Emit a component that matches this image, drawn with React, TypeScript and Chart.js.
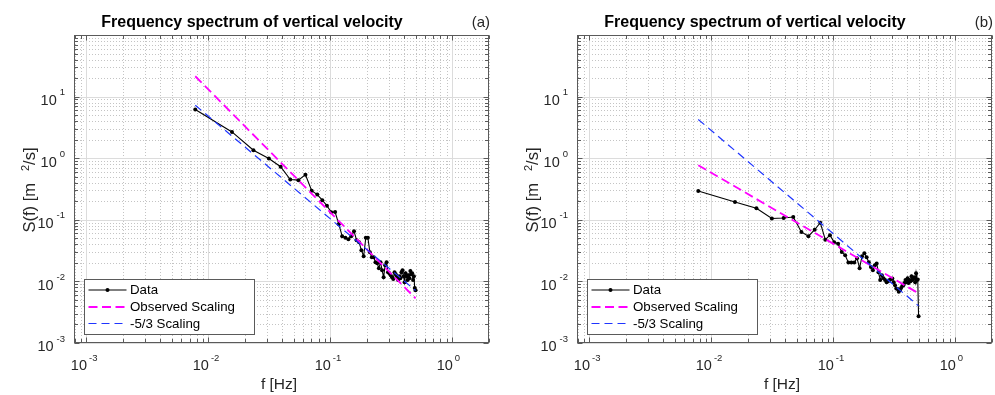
import React, { useEffect, useRef } from 'react';
import { Chart, registerables } from 'chart.js';

Chart.register(...registerables);

// ---------- data ----------
const freqs = [
  0.0078, 0.0156, 0.0234, 0.0313, 0.0391, 0.0469, 0.0547, 0.0625, 0.0703, 0.0781,
  0.0859, 0.0938, 0.1016, 0.1094, 0.1172, 0.125, 0.1328, 0.1406, 0.1484, 0.1563,
  0.1641, 0.1719, 0.1797, 0.1875, 0.1953, 0.2031, 0.2109, 0.2188, 0.2266, 0.2344,
  0.2422, 0.25, 0.2578, 0.2656, 0.2734, 0.2813, 0.2891, 0.2969, 0.3047, 0.3125,
  0.3203, 0.3281, 0.3359, 0.3438, 0.3516, 0.3594, 0.3672, 0.375, 0.3828, 0.3906,
  0.3984, 0.4063, 0.4141, 0.4219, 0.4297, 0.4375, 0.4453, 0.4531, 0.4609, 0.4688,
  0.4766, 0.4844, 0.4922, 0.5,
];

const psdA = [
  6.18, 2.67, 1.35, 0.99, 0.728, 0.451, 0.44, 0.54, 0.297, 0.257,
  0.208, 0.169, 0.133, 0.134, 0.0849, 0.0542, 0.0512, 0.0484, 0.0542, 0.0653,
  0.0467, 0.0433, 0.0321, 0.0256, 0.0512, 0.0512, 0.0298, 0.0247, 0.0247, 0.0205,
  0.0197, 0.0164, 0.0205, 0.0152, 0.0117, 0.0183, 0.0205, 0.0141, 0.0136, 0.0126,
  0.0117, 0.0109, 0.0141, 0.0131, 0.0121, 0.0105, 0.0121, 0.0113, 0.0141, 0.0152,
  0.0121, 0.0097, 0.0136, 0.0121, 0.0105, 0.0126, 0.0113, 0.0147, 0.0131, 0.0136,
  0.0105, 0.0121, 0.0078, 0.0072,
];

const psdB = [
  0.294, 0.195, 0.154, 0.105, 0.107, 0.111, 0.0636, 0.0542, 0.069, 0.0897,
  0.0475, 0.0562, 0.0433, 0.0409, 0.0301, 0.0266, 0.0203, 0.0203, 0.0202, 0.0238,
  0.0164, 0.0256, 0.0287, 0.0247, 0.0205, 0.0172, 0.0152, 0.0183, 0.0195, 0.0141,
  0.0105, 0.0126, 0.0113, 0.0105, 0.0097, 0.0101, 0.0105, 0.0109, 0.0111, 0.0097,
  0.0087, 0.0077, 0.0075, 0.0068, 0.0072, 0.0078, 0.0084, 0.0087, 0.0094, 0.0105,
  0.0097, 0.0113, 0.0094, 0.0105, 0.0101, 0.0121, 0.0105, 0.0113, 0.0117, 0.0097,
  0.0136, 0.0105, 0.0107, 0.00272,
];

const fitFreqs = [0.0078, 0.5];
const observedA = [21.4, 0.0053];
const kolmogorovA = [7.25, 0.0071];
const observedB = [0.77, 0.0064];
const kolmogorovB = [4.25, 0.004];

const xTickExps = [-3, -2, -1, 0];
const yTickExps = [-3, -2, -1, 0, 1];
const seriesLabels = ['Data', 'Observed Scaling', '-5/3 Scaling'];
const titleText = 'Frequency spectrum of vertical velocity';
const panelTags = ['(a)', '(b)'];
const xLabelText = 'f [Hz]';
const yLabelParts = ['S(f) [m', '2', '/s]'];

// ---------- style ----------
const X_MIN = 0.00079;
const X_MAX = 2.0;
const Y_MIN = 0.001;
const Y_MAX = 100;
const FONT = '"Liberation Sans", Arial, Helvetica, sans-serif';
const TXT = '#262626';
const FRAME = '#5a5a5a';
const H = 395;
const AREA_LEFT = 74;
const AREA_RIGHT = 489;
const AREA_TOP = 35;
const AREA_BOTTOM = 343;

function logGridValues(min: number, max: number) {
  const majors: number[] = [];
  const minors: number[] = [];
  const e0 = Math.floor(Math.log10(min));
  const e1 = Math.ceil(Math.log10(max));
  for (let e = e0; e <= e1; e++) {
    for (let m = 1; m <= 9; m++) {
      const v = m * Math.pow(10, e);
      if (v < min * 0.9999 || v > max * 1.0001) continue;
      (m === 1 ? majors : minors).push(v);
    }
  }
  return { majors, minors };
}

const snap = (p: number) => Math.round(p) + 0.5;

function makePlugin(tag: string) {
  return {
    id: 'matlabAxes',
    beforeDatasetsDraw(chart: any) {
      const { ctx, chartArea: a, scales } = chart;
      const xs = scales.x;
      const ys = scales.y;
      const gx = logGridValues(X_MIN, X_MAX);
      const gy = logGridValues(Y_MIN, Y_MAX);
      ctx.save();
      ctx.lineWidth = 1;
      ctx.strokeStyle = '#c4c4c4';
      ctx.setLineDash([1, 2]);
      ctx.beginPath();
      gx.minors.forEach((v) => {
        const p = snap(xs.getPixelForValue(v));
        ctx.moveTo(p, a.top);
        ctx.lineTo(p, a.bottom);
      });
      gy.minors.forEach((v) => {
        const p = snap(ys.getPixelForValue(v));
        ctx.moveTo(a.left, p);
        ctx.lineTo(a.right, p);
      });
      ctx.stroke();
      ctx.setLineDash([]);
      ctx.strokeStyle = '#dcdcdc';
      ctx.beginPath();
      gx.majors.forEach((v) => {
        const p = snap(xs.getPixelForValue(v));
        ctx.moveTo(p, a.top);
        ctx.lineTo(p, a.bottom);
      });
      gy.majors.forEach((v) => {
        const p = snap(ys.getPixelForValue(v));
        ctx.moveTo(a.left, p);
        ctx.lineTo(a.right, p);
      });
      ctx.stroke();
      ctx.restore();
    },
    afterDraw(chart: any) {
      const { ctx, chartArea: a, scales } = chart;
      const xs = scales.x;
      const ys = scales.y;
      const gx = logGridValues(X_MIN, X_MAX);
      const gy = logGridValues(Y_MIN, Y_MAX);
      ctx.save();
      ctx.strokeStyle = FRAME;
      ctx.lineWidth = 1;
      ctx.setLineDash([]);
      const L = snap(a.left), R = snap(a.right) - 1, T = snap(a.top), B = snap(a.bottom) - 1;
      ctx.strokeRect(L, T, R - L, B - T);
      ctx.beginPath();
      const tick = (v: number, len: number, axis: 'x' | 'y') => {
        if (axis === 'x') {
          const p = snap(xs.getPixelForValue(v));
          ctx.moveTo(p, B); ctx.lineTo(p, B - len);
          ctx.moveTo(p, T); ctx.lineTo(p, T + len);
        } else {
          const p = snap(ys.getPixelForValue(v));
          ctx.moveTo(L, p); ctx.lineTo(L + len, p);
          ctx.moveTo(R, p); ctx.lineTo(R - len, p);
        }
      };
      gx.majors.forEach((v) => tick(v, 5, 'x'));
      gx.minors.forEach((v) => tick(v, 3.5, 'x'));
      gy.majors.forEach((v) => tick(v, 5, 'y'));
      gy.minors.forEach((v) => tick(v, 3.5, 'y'));
      ctx.stroke();

      ctx.fillStyle = TXT;
      const baseFont = `14.5px ${FONT}`;
      const supFont = `9.5px ${FONT}`;
      xTickExps.forEach((e) => {
        const p = xs.getPixelForValue(Math.pow(10, e));
        ctx.font = baseFont;
        ctx.textAlign = 'right';
        ctx.textBaseline = 'alphabetic';
        ctx.fillText('10', p + 0.5, 369.5);
        ctx.font = supFont;
        ctx.textAlign = 'left';
        ctx.fillText(String(e), p + 2.5, 361);
      });
      yTickExps.forEach((e) => {
        const p = ys.getPixelForValue(Math.pow(10, e));
        ctx.font = supFont;
        const sw = ctx.measureText(String(e)).width;
        const right = a.left - 9;
        ctx.textAlign = 'left';
        ctx.textBaseline = 'alphabetic';
        ctx.fillText(String(e), right - sw, p - 1.5);
        ctx.font = baseFont;
        ctx.textAlign = 'right';
        ctx.fillText('10', right - sw - 3, p + 8.3);
      });

      ctx.font = `15.5px ${FONT}`;
      ctx.textAlign = 'center';
      ctx.fillText(xLabelText, (a.left + a.right) / 2 - 2.5, 389);

      // y label (rotated)
      ctx.save();
      ctx.translate(35, (a.top + a.bottom) / 2 + 1);
      ctx.rotate(-Math.PI / 2);
      const bigFont = `16.5px ${FONT}`;
      const smallFont = `11px ${FONT}`;
      ctx.font = bigFont;
      const w0 = ctx.measureText(yLabelParts[0]).width;
      const w2 = ctx.measureText(yLabelParts[2]).width;
      ctx.font = smallFont;
      const w1 = ctx.measureText(yLabelParts[1]).width;
      const gap = 12;
      const total = w0 + gap + w1 + w2;
      let cx = -total / 2;
      ctx.textAlign = 'left';
      ctx.font = bigFont;
      ctx.fillText(yLabelParts[0], cx, 0);
      cx += w0 + gap;
      ctx.font = smallFont;
      ctx.fillText(yLabelParts[1], cx, -6.5);
      cx += w1;
      ctx.font = bigFont;
      ctx.fillText(yLabelParts[2], cx, 0);
      ctx.restore();

      ctx.font = `bold 16px ${FONT}`;
      ctx.textAlign = 'center';
      ctx.fillStyle = '#000';
      ctx.fillText(titleText, a.left + 178, 27);
      ctx.font = `15px ${FONT}`;
      ctx.textAlign = 'right';
      ctx.fillStyle = TXT;
      ctx.fillText(tag, a.right + 1, 26.5);

      // legend
      const lx = snap(a.left + 10), ly = snap(a.top + 244);
      const lw = 170, lh = 55;
      ctx.fillStyle = '#fff';
      ctx.fillRect(lx, ly, lw, lh);
      ctx.strokeStyle = FRAME;
      ctx.lineWidth = 1;
      ctx.strokeRect(lx, ly, lw, lh);
      const rows = [10.5, 27.5, 44];
      chart.data.datasets.forEach((ds: any, i: number) => {
        const ry = ly + rows[i];
        ctx.save();
        ctx.strokeStyle = ds.borderColor;
        ctx.lineWidth = ds.borderWidth;
        ctx.setLineDash(ds.borderDash || []);
        ctx.beginPath();
        ctx.moveTo(lx + 4, ry);
        ctx.lineTo(lx + 42, ry);
        ctx.stroke();
        if (ds.pointRadius > 0) {
          ctx.fillStyle = ds.pointBackgroundColor;
          ctx.beginPath();
          ctx.arc(lx + 23, ry, ds.pointRadius, 0, Math.PI * 2);
          ctx.fill();
        }
        ctx.restore();
        ctx.fillStyle = '#000';
        ctx.font = `13.3px ${FONT}`;
        ctx.textAlign = 'left';
        ctx.textBaseline = 'middle';
        ctx.fillText(seriesLabels[i], lx + 45.5, ry + 0.5);
        ctx.textBaseline = 'alphabetic';
      });
      ctx.restore();
    },
  };
}

type PanelProps = {
  left: number;
  width: number;
  psd: number[];
  observed: number[];
  kolmogorov: number[];
  tag: string;
};

function Panel({ left, width, psd, observed, kolmogorov, tag }: PanelProps) {
  const ref = useRef<HTMLCanvasElement>(null);
  useEffect(() => {
    const canvas = ref.current;
    if (!canvas) return;
    const chart = new Chart(canvas, {
      type: 'line',
      data: {
        datasets: [
          {
            label: seriesLabels[0],
            data: freqs.map((f, i) => ({ x: f, y: psd[i] })),
            borderColor: '#000',
            backgroundColor: '#000',
            borderWidth: 1.1,
            pointRadius: 2,
            pointBackgroundColor: '#000',
            pointBorderWidth: 0,
            pointHoverRadius: 0,
            tension: 0,
            order: 3,
          },
          {
            label: seriesLabels[1],
            data: fitFreqs.map((f, i) => ({ x: f, y: observed[i] })),
            borderColor: '#ff00ff',
            borderWidth: 1.8,
            borderDash: [9, 4.5],
            pointRadius: 0,
            tension: 0,
            order: 2,
          },
          {
            label: seriesLabels[2],
            data: fitFreqs.map((f, i) => ({ x: f, y: kolmogorov[i] })),
            borderColor: '#1f35ff',
            borderWidth: 1.2,
            borderDash: [8, 5],
            pointRadius: 0,
            tension: 0,
            order: 1,
          },
        ] as any,
      },
      options: {
        animation: false,
        responsive: false,
        devicePixelRatio: 1,
        events: [],
        layout: {
          padding: {
            left: AREA_LEFT,
            right: width - AREA_RIGHT,
            top: AREA_TOP,
            bottom: H - AREA_BOTTOM,
          },
        },
        scales: {
          x: { type: 'logarithmic', display: false, min: X_MIN, max: X_MAX },
          y: { type: 'logarithmic', display: false, min: Y_MIN, max: Y_MAX },
        },
        plugins: {
          legend: { display: false },
          title: { display: false },
          tooltip: { enabled: false },
        },
      } as any,
      plugins: [makePlugin(tag)],
    });
    return () => chart.destroy();
  }, []);
  return (
    <div style={{ position: 'absolute', left, top: 0, width, height: H }}>
      <canvas ref={ref} width={width} height={H} style={{ width, height: H, display: 'block' }} />
    </div>
  );
}

export default function App() {
  return (
    <div
      style={{
        position: 'fixed',
        left: 0,
        top: 0,
        width: 995,
        height: H,
        background: '#fff',
        overflow: 'hidden',
      }}
    >
      <Panel left={0} width={500} psd={psdA} observed={observedA} kolmogorov={kolmogorovA} tag={panelTags[0]} />
      <Panel left={503} width={492} psd={psdB} observed={observedB} kolmogorov={kolmogorovB} tag={panelTags[1]} />
    </div>
  );
}
